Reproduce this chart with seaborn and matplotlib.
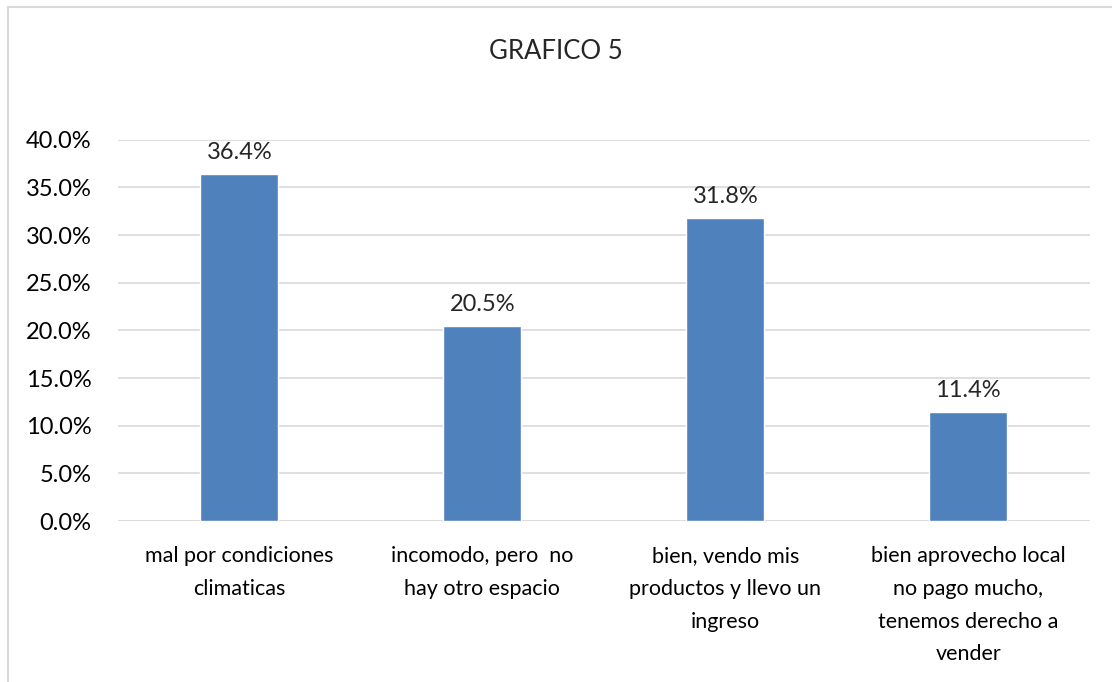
import matplotlib
matplotlib.use("Agg")
import matplotlib.pyplot as plt
import matplotlib.patches as patches
from matplotlib.ticker import PercentFormatter
import seaborn as sns
import pandas as pd

# datos del grafico
categorias = ["mal por condiciones\nclimaticas",
              "incomodo, pero  no\nhay otro espacio",
              "bien, vendo mis\nproductos y llevo un\ningreso",
              "bien aprovecho local\nno pago mucho,\ntenemos derecho a\nvender"]
porcentajes = [36.4, 20.5, 31.8, 11.4]
titulo = "GRAFICO 5"

df = pd.DataFrame({"categoria": categorias, "valor": porcentajes})

sns.set_style("white")
plt.rcParams["font.family"] = ["Lato", "DejaVu Sans"]

fig = plt.figure(figsize=(11.12, 6.82), dpi=100)
ax = fig.add_axes([0.106, 0.236, 0.874, 0.559])

sns.barplot(data=df, x="categoria", y="valor", color="#4F81BD", width=0.32,
            saturation=1, ax=ax, zorder=3)

ax.set_ylim(0, 40)
ax.set_yticks(range(0, 41, 5))
ax.yaxis.set_major_formatter(PercentFormatter(decimals=1))
ax.grid(axis="y", color="#D9D9D9", linewidth=1.2, zorder=0)
ax.set_xlabel("")
ax.set_ylabel("")
for s in ax.spines.values():
    s.set_visible(False)
ax.axhline(0, color="#D9D9D9", linewidth=1.2, zorder=1)
ax.tick_params(axis="y", length=0, labelsize=17, colors="black", pad=19)
ax.tick_params(axis="x", length=0, labelsize=15.5, colors="black", pad=18)
for lbl in ax.get_xticklabels():
    lbl.set_linespacing(1.8)

ax.bar_label(ax.containers[0], labels=[f"{v:.1f}%" for v in porcentajes],
             padding=8, fontsize=17)

fig.text(0.5, 0.924, titulo, ha="center", va="center", fontsize=18.5)

# borde del grafico
fig.patches.append(patches.Rectangle((8 / 1112, -0.1), 1.2, 1 - 7 / 682 + 0.1,
                                     transform=fig.transFigure, fill=False,
                                     edgecolor="#D9D9D9", linewidth=1.5))

fig.savefig("out.png", dpi=100)
